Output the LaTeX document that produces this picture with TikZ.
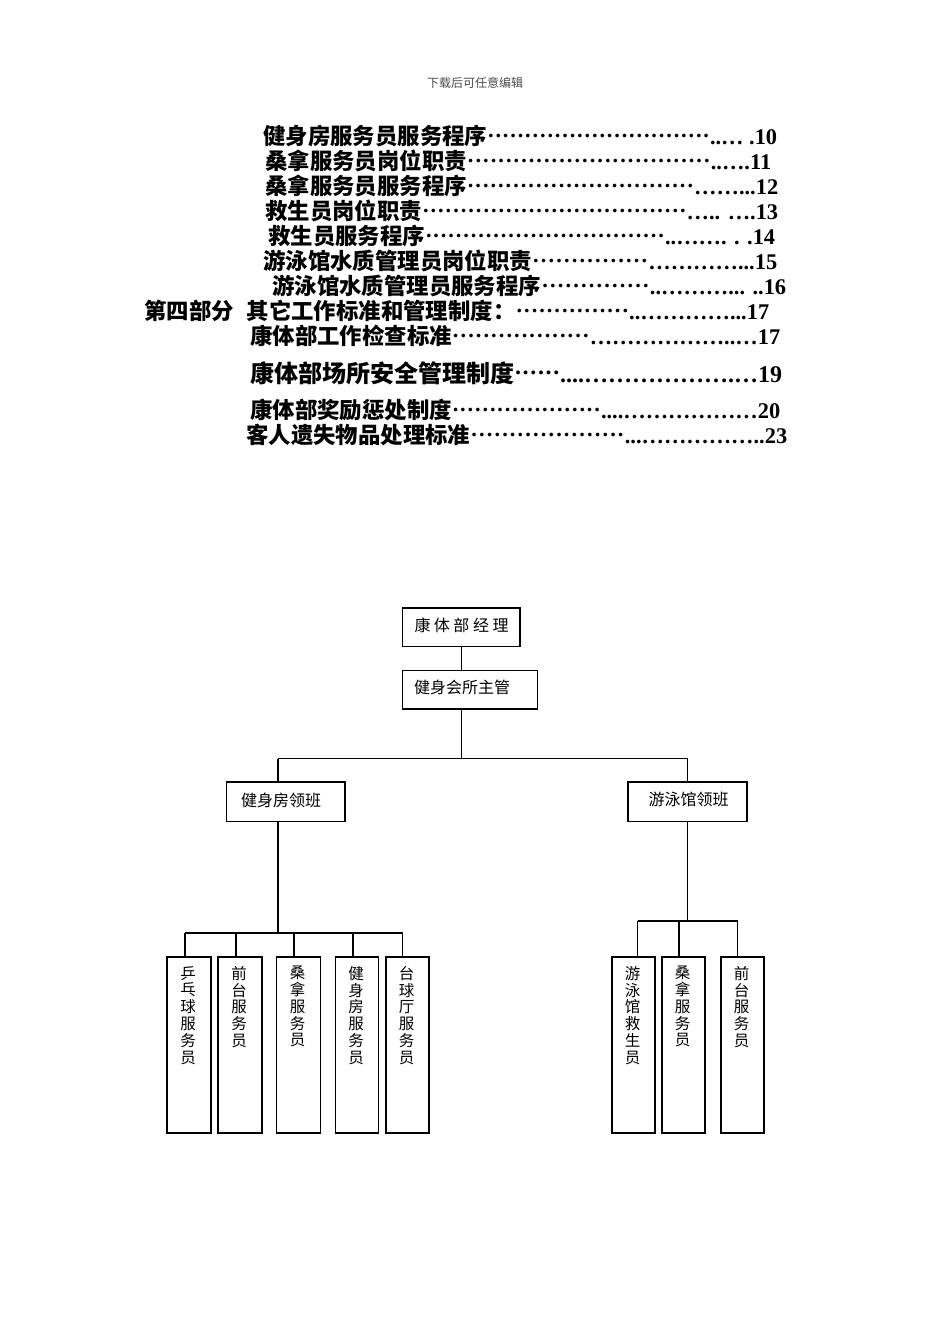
\documentclass[tikz,border=0pt]{standalone}
\usepackage{fontspec}
\newfontfamily\cjk{Noto Sans CJK SC}
\newfontfamily\tnum{Liberation Serif}
\newcommand{\tocdot}{\xleaders\hbox to 7.4pt{\hss\raisebox{0.3em}{\tnum\bfseries .}\hss}\hfill}
% #1 name, #2 x, #3 y, #4 width, #5 size, #6 chinese, #7 number part
\newcommand{\tocline}[7]{%
  \node[tocnode] (#1) at (#2,#3) {\fontsize{#5}{#5}\selectfont\makebox[#4pt][l]{\cjk\bfseries #6\tocdot{\tnum\bfseries #7}}};}
\begin{document}
\begin{tikzpicture}[x=1pt,y=-1pt,
  tocnode/.style={anchor=west,inner sep=0pt},
  bx/.style={draw,line width=1.1pt,inner sep=0pt},
  lbl/.style={inner sep=0pt,font=\cjk\fontsize{16}{16}\selectfont},
  vt/.style={anchor=north,align=center,inner sep=0pt,font=\cjk\fontsize{15.5}{16.8}\selectfont},
  ln/.style={line width=1.1pt}]
\useasboundingbox[fill=white] (0,0) rectangle (950,1344);
% header
\node[inner sep=0pt,text=black!70,font=\cjk\fontsize{12}{12}\selectfont] (hdr) at (475,83) {下载后可任意编辑};
% table of contents
\tocline{toc1}{263}{136}{514}{22.4}{健身房服务员服务程序}{..… .10}
\tocline{toc2}{265}{161}{506}{22.4}{桑拿服务员岗位职责}{..….11}
\tocline{toc3}{265}{186}{513}{22.4}{桑拿服务员服务程序}{……...12}
\tocline{toc4}{265}{211}{513}{22.4}{救生员岗位职责}{….. ….13}
\tocline{toc5}{268}{236}{507}{22.4}{救生员服务程序}{..……. . .14}
\tocline{toc6}{263}{261}{514}{22.4}{游泳馆水质管理员岗位职责}{…………...15}
\tocline{toc7}{272}{286}{514}{22.4}{游泳馆水质管理员服务程序}{..………... ..16}
\tocline{toc8}{144}{311}{625}{22.4}{第四部分\hspace{13pt}其它工作标准和管理制度：}{..…………...17}
\tocline{toc9}{250}{336}{530}{22.4}{康体部工作检查标准}{………………..…17}
\tocline{toc10}{250}{373}{532}{24}{康体部场所安全管理制度}{....……………….…19}
\tocline{toc11}{250}{410}{530}{22.4}{康体部奖励惩处制度}{....………………20}
\tocline{toc12}{246}{435}{541}{22.4}{客人遗失物品处理标准}{...……………..23}
% chart boxes
\node[bx,minimum width=117.3pt,minimum height=38.7pt] (mgr) at (461.3,627.3) {};
\node[bx,minimum width=135pt,minimum height=38.3pt] (sup) at (470.2,689.8) {};
\node[bx,minimum width=118.3pt,minimum height=39.7pt] (lf) at (285.8,801.8) {};
\node[bx,minimum width=119pt,minimum height=39.7pt] (rt) at (687.5,801.8) {};
\node[lbl] (mgrt) at (461.5,625) {康\hspace{3.5pt}体\hspace{3.5pt}部\hspace{3.5pt}经\hspace{3.5pt}理};
\node[lbl] (supt) at (462,687) {健身会所主管};
\node[lbl] (lft) at (281,800) {健身房领班};
\node[lbl] (rtt) at (688.5,799) {游泳馆领班};
% bottom boxes
\node[bx,minimum width=44pt,minimum height=176pt] (b1) at (189,1045) {};
\node[bx,minimum width=44pt,minimum height=176pt] (b2) at (240,1045) {};
\node[bx,minimum width=43.5pt,minimum height=176pt] (b3) at (298.3,1045) {};
\node[bx,minimum width=42.5pt,minimum height=176pt] (b4) at (357,1045) {};
\node[bx,minimum width=43pt,minimum height=176pt] (b5) at (407.5,1045) {};
\node[bx,minimum width=43pt,minimum height=176pt] (r1) at (633.5,1045) {};
\node[bx,minimum width=43pt,minimum height=176pt] (r2) at (683.5,1045) {};
\node[bx,minimum width=43pt,minimum height=176pt] (r3) at (742.5,1045) {};
\node[vt] (t1) at (188,966) {乒\\乓\\球\\服\\务\\员};
\node[vt] (t2) at (239,966) {前\\台\\服\\务\\员};
\node[vt] (t3) at (297.5,966) {桑\\拿\\服\\务\\员};
\node[vt] (t4) at (356,966) {健\\身\\房\\服\\务\\员};
\node[vt] (t5) at (406.5,966) {台\\球\\厅\\服\\务\\员};
\node[vt] (s1) at (632.5,966) {游\\泳\\馆\\救\\生\\员};
\node[vt] (s2) at (682.5,966) {桑\\拿\\服\\务\\员};
\node[vt] (s3) at (741.5,966) {前\\台\\服\\务\\员};
% connectors
\coordinate (j1) at (461.3,758.5);
\coordinate (jl) at (278,758.5);
\coordinate (jr) at (687.5,758.5);
\draw[ln] (mgr.south) -- (mgr.south |- sup.north);
\draw[ln] (mgr.south |- sup.south) -- (j1);
\draw[ln] (jl) -- (jr);
\draw[ln] (jl) -- (jl |- lf.north);
\draw[ln] (jr) -- (rt.north);
\coordinate (kl) at (278,933);
\draw[ln] (jl |- lf.south) -- (kl);
\coordinate (d1) at (185,933);
\coordinate (d2) at (236,933);
\coordinate (d3) at (294,933);
\coordinate (d4) at (353,933);
\coordinate (d5) at (402.5,933);
\draw[ln] (d1) -- (d5);
\draw[ln] (d1) -- (d1 |- b1.north);
\draw[ln] (d2) -- (d2 |- b2.north);
\draw[ln] (d3) -- (d3 |- b3.north);
\draw[ln] (d4) -- (d4 |- b4.north);
\draw[ln] (d5) -- (d5 |- b5.north);
\coordinate (kr) at (687.5,921);
\draw[ln] (rt.south) -- (kr);
\coordinate (e1) at (637.5,921);
\coordinate (e2) at (679,921);
\coordinate (e3) at (737.5,921);
\draw[ln] (e1) -- (e3);
\draw[ln] (e1) -- (e1 |- r1.north);
\draw[ln] (e2) -- (e2 |- r2.north);
\draw[ln] (e3) -- (e3 |- r3.north);
\end{tikzpicture}
\end{document}
